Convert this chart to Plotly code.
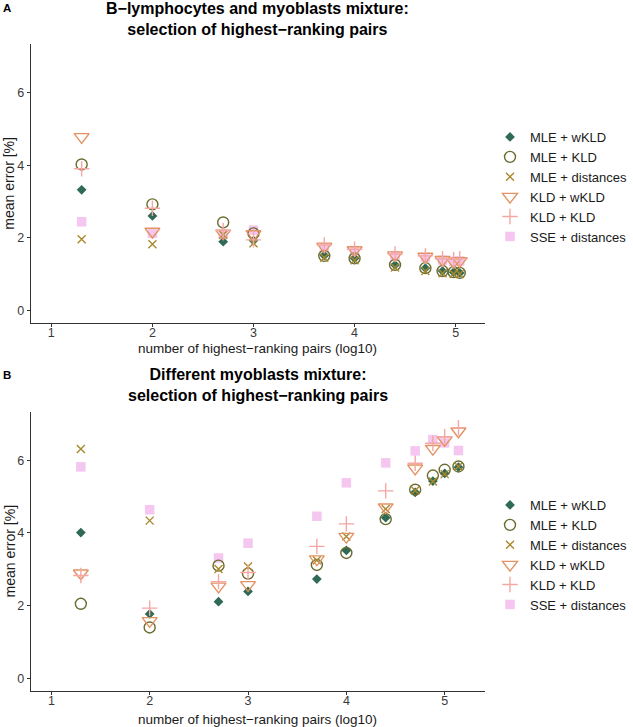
import plotly.graph_objects as go

# ---------------- data ----------------
series_names = ["MLE + wKLD", "MLE + KLD", "MLE + distances", "KLD + wKLD", "KLD + KLD", "SSE + distances"]

x_top = [1.30, 2.00, 2.70, 3.00, 3.70, 4.00, 4.40, 4.70, 4.87, 4.98, 5.04]
mle_wkld_top = [3.32, 2.60, 1.89, 1.92, 1.51, 1.43, 1.25, 1.16, 1.08, 1.05, 1.03]
mle_kld_top = [4.02, 2.92, 2.42, 2.12, 1.50, 1.43, 1.25, 1.16, 1.08, 1.05, 1.03]
mle_dist_top = [1.96, 1.82, 2.08, 1.85, 1.45, 1.38, 1.18, 1.08, 1.02, 1.00, 1.00]
kld_wkld_top = [4.78, 2.17, 2.12, 2.10, 1.76, 1.66, 1.52, 1.48, 1.39, 1.34, 1.36]
kld_kld_top = [3.90, 2.81, 2.20, 1.94, 1.80, 1.68, 1.55, 1.50, 1.42, 1.40, 1.42]
sse_dist_top = [2.44, 2.12, 2.10, 2.21, 1.72, 1.64, 1.50, 1.45, 1.38, 1.35, 1.36]

x_bot = [1.30, 2.00, 2.70, 3.00, 3.70, 4.00, 4.40, 4.70, 4.88, 5.00, 5.14]
mle_wkld_bot = [4.01, 1.77, 2.11, 2.39, 2.73, 3.52, 4.42, 5.12, 5.43, 5.64, 5.81]
mle_kld_bot = [2.05, 1.40, 3.10, 2.88, 3.12, 3.45, 4.38, 5.19, 5.58, 5.74, 5.83]
mle_dist_bot = [6.31, 4.34, 3.01, 3.08, 3.25, 3.90, 4.66, 5.17, 5.42, 5.62, 5.83]
kld_wkld_bot = [2.89, 1.58, 2.53, 2.57, 3.28, 3.90, 4.71, 5.78, 6.32, 6.56, 6.80]
kld_kld_bot = [2.83, 1.93, 2.66, 2.91, 3.63, 4.25, 5.16, 5.92, 6.47, 6.65, 6.90]
sse_dist_bot = [5.82, 4.64, 3.31, 3.72, 4.46, 5.38, 5.93, 6.26, 6.57, 6.48, 6.27]

x_ticks = [1, 2, 3, 4, 5]
y_ticks = [0, 2, 4, 6]

top_title = "B\u2212lymphocytes and myoblasts mixture:<br>selection of highest\u2212ranking pairs"
bot_title = "Different myoblasts mixture:<br>selection of highest\u2212ranking pairs"
x_title = "number of highest\u2212ranking pairs (log10)"
y_title = "mean error [%]"

# ---------------- styles ----------------
W, H = 633, 727
FONT = "Liberation Sans, Arial, sans-serif"
styles = [
    dict(symbol="diamond", size=7.5, color="#2E6A55", line=dict(width=0)),
    dict(symbol="circle-open", size=11, color="#6A6B2E", line=dict(width=1.4, color="#6A6B2E")),
    dict(symbol="x-thin-open", size=8, color="#A8892F", line=dict(width=1.4, color="#A8892F")),
    dict(symbol="triangle-down-open", size=13, color="#E39262", line=dict(width=1.4, color="#E39262")),
    dict(symbol="cross-thin-open", size=11, color="#F4A7A4", line=dict(width=1.4, color="#F4A7A4")),
    dict(symbol="square", size=9.5, color="#F4C6F0", line=dict(width=0)),
]
# drawing order: square first (background), then the rest
draw_order = [5, 0, 1, 2, 3, 4]

top_series = [mle_wkld_top, mle_kld_top, mle_dist_top, kld_wkld_top, kld_kld_top, sse_dist_top]
bot_series = [mle_wkld_bot, mle_kld_bot, mle_dist_bot, kld_wkld_bot, kld_kld_bot, sse_dist_bot]

fig = go.Figure()
for xs, series, xa, ya, lg in [
    (x_top, top_series, "x", "y", "legend"),
    (x_bot, bot_series, "x2", "y2", "legend2"),
]:
    for i in draw_order:
        fig.add_trace(go.Scatter(
            x=xs, y=series[i], mode="markers", name=series_names[i],
            marker=styles[i], xaxis=xa, yaxis=ya, legend=lg,
            legendrank=i + 1, showlegend=True, cliponaxis=False,
        ))


def px_x(p):
    return p / W


def px_y(p):
    return 1 - p / H


x_dom = [px_x(30.7), px_x(485)]
top_dom = [px_y(323.3), px_y(44)]
bot_dom = [px_y(691), px_y(412)]

axis_common = dict(
    showline=True, linecolor="#333333", linewidth=1.1, mirror=False,
    ticks="outside", ticklen=3, tickwidth=1, tickcolor="#333333",
    showgrid=False, zeroline=False, automargin=False,
    tickfont=dict(family=FONT, size=12.5, color="#3A3A3A"),
)

legend_common = dict(
    font=dict(family=FONT, size=13, color="#1A1A1A"),
    bgcolor="rgba(0,0,0,0)", borderwidth=0, xanchor="left", yanchor="middle",
    itemsizing="trace", traceorder="normal", tracegroupgap=0,
)

fig.update_layout(
    width=W, height=H,
    margin=dict(l=0, r=0, t=0, b=0),
    paper_bgcolor="white", plot_bgcolor="white",
    font=dict(family=FONT, color="#1A1A1A"),
    xaxis=dict(domain=x_dom, range=[0.796, 5.29], tickvals=x_ticks, anchor="y",
               ticklabelstandoff=-5, **axis_common),
    yaxis=dict(domain=top_dom, range=[-0.36, 7.34], tickvals=y_ticks, anchor="x", **axis_common),
    xaxis2=dict(domain=x_dom, range=[0.79, 5.41], tickvals=x_ticks, anchor="y2",
                ticklabelstandoff=-5, **axis_common),
    yaxis2=dict(domain=bot_dom, range=[-0.35, 7.33], tickvals=y_ticks, anchor="x2", **axis_common),
    legend=dict(x=px_x(490), y=px_y(187), **legend_common),
    legend2=dict(x=px_x(490), y=px_y(555), **legend_common),
    showlegend=True,
)

annotations = []
xc = (30.7 + 485) / 2 / W
for title, yc in [(top_title, 19), (bot_title, 385)]:
    annotations.append(dict(
        text="<b>" + title + "</b>", x=xc, y=px_y(yc), xref="paper", yref="paper",
        xanchor="center", yanchor="middle", showarrow=False, align="center",
        font=dict(family=FONT, size=16, color="#000000"),
    ))
for lab, yc in [("A", 8), ("B", 374.5)]:
    annotations.append(dict(
        text="<b>" + lab + "</b>", x=px_x(7), y=px_y(yc), xref="paper", yref="paper",
        xanchor="center", yanchor="middle", showarrow=False,
        font=dict(family=FONT, size=11.5, color="#000000"),
    ))
for yc in [349, 719]:
    annotations.append(dict(
        text=x_title, x=xc, y=px_y(yc), xref="paper", yref="paper",
        xanchor="center", yanchor="middle", showarrow=False,
        font=dict(family=FONT, size=13.5, color="#1A1A1A"),
    ))
for yc in [(44 + 323.3) / 2, (412 + 691) / 2]:
    annotations.append(dict(
        text=y_title, x=px_x(9), y=px_y(yc), xref="paper", yref="paper",
        xanchor="center", yanchor="middle", showarrow=False, textangle=-90,
        font=dict(family=FONT, size=14, color="#1A1A1A"),
    ))
fig.update_layout(annotations=annotations)

fig.write_html("out.html", config={"displayModeBar": False},
               post_script="document.body.style.margin='0px';")
